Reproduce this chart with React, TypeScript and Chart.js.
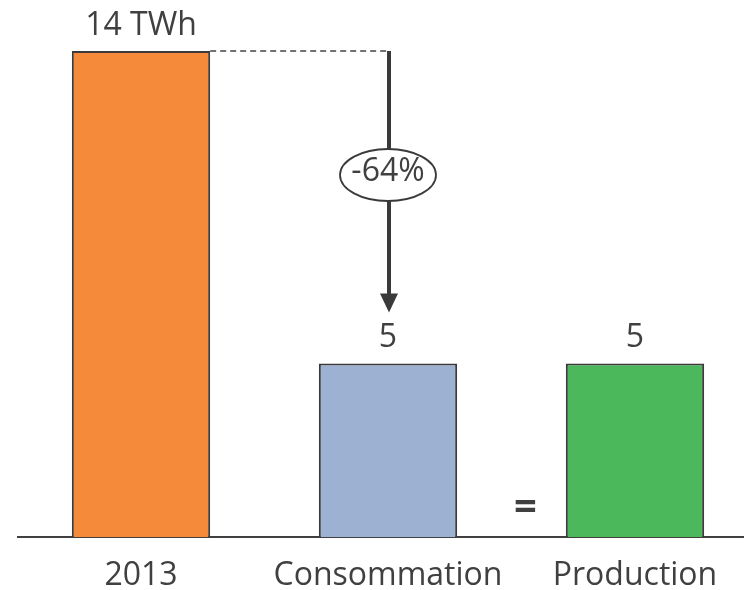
import React, { useEffect, useRef } from "react";
import { Chart, registerables } from "chart.js";

Chart.register(...registerables);

const categories = ["2013", "Consommation", "Production"];
const values = [14, 5, 5];
const valueLabels = ["14 TWh", "5", "5"];
const barColors = ["#F58A3A", "#9DB1D2", "#4BB85C"];
const changeLabel = "-64%";
const equalsLabel = "=";

const TEXT = "#404040";
const FONT = "'Open Sans', 'DejaVu Sans', sans-serif";

const annotationPlugin = {
  id: "annots",
  afterDatasetsDraw(chart: any) {
    const ctx = chart.ctx as CanvasRenderingContext2D;
    const x = chart.scales.x;
    const y = chart.scales.y;
    const meta = chart.getDatasetMeta(0);
    ctx.save();
    ctx.fillStyle = TEXT;
    ctx.font = `32px ${FONT}`;
    ctx.textAlign = "center";
    ctx.textBaseline = "alphabetic";
    meta.data.forEach((bar: any, i: number) => {
      ctx.fillText(valueLabels[i], bar.x, bar.y - 16);
    });
    categories.forEach((c, i) => {
      ctx.fillText(c, x.getPixelForValue(i), y.getPixelForValue(0) + 48);
    });
    const b0 = meta.data[0];
    const b1 = meta.data[1];
    const topY = y.getPixelForValue(values[0]);
    const arrowX = b1.x + 1;
    ctx.strokeStyle = "#444";
    ctx.lineWidth = 1.3;
    ctx.setLineDash([6, 4]);
    ctx.beginPath();
    ctx.moveTo(b0.x + b0.width / 2, topY);
    ctx.lineTo(arrowX, topY);
    ctx.stroke();
    ctx.setLineDash([]);
    const tipY = y.getPixelForValue(values[1]) - 51;
    ctx.strokeStyle = "#3a3a3a";
    ctx.lineWidth = 4;
    ctx.beginPath();
    ctx.moveTo(arrowX, topY);
    ctx.lineTo(arrowX, tipY - 16);
    ctx.stroke();
    ctx.fillStyle = "#3a3a3a";
    ctx.beginPath();
    ctx.moveTo(arrowX - 9, tipY - 19);
    ctx.lineTo(arrowX + 9, tipY - 19);
    ctx.lineTo(arrowX, tipY);
    ctx.closePath();
    ctx.fill();
    const ey = 175;
    ctx.fillStyle = "#fff";
    ctx.strokeStyle = "#3a3a3a";
    ctx.lineWidth = 1.8;
    ctx.beginPath();
    ctx.ellipse(arrowX - 1, ey, 48, 26, 0, 0, Math.PI * 2);
    ctx.fill();
    ctx.stroke();
    ctx.fillStyle = TEXT;
    ctx.font = `500 32px ${FONT}`;
    ctx.textBaseline = "middle";
    ctx.fillText(changeLabel, arrowX - 1, ey - 3);
    const b2 = meta.data[2];
    ctx.font = `bold 40px ${FONT}`;
    ctx.fillText(equalsLabel, (b1.x + b2.x) / 2 + 14, y.getPixelForValue(0) - 28);
    ctx.restore();
  },
};

export default function App() {
  const ref = useRef<HTMLCanvasElement>(null);
  useEffect(() => {
    document.body.style.margin = "0";
    document.body.style.overflow = "hidden";
    const chart = new Chart(ref.current!, {
      type: "bar",
      data: {
        labels: categories,
        datasets: [
          {
            data: values,
            backgroundColor: barColors,
            borderColor: "#3a3a3a",
            borderWidth: 2,
            borderSkipped: "bottom",
            barPercentage: 0.56,
            categoryPercentage: 1,
          },
        ],
      },
      options: {
        responsive: false,
        animation: false,
        layout: { padding: { left: 17.5, right: 1.5, top: 0, bottom: 53 } },
        plugins: { legend: { display: false }, tooltip: { enabled: false } },
        scales: {
          x: {
            display: true,
            grid: { display: false, drawTicks: false },
            ticks: { display: false },
            border: { display: true, color: "#404040", width: 2 },
          },
          y: {
            display: false,
            min: 0,
            max: (14 * 537) / 486,
          },
        },
      },
      plugins: [annotationPlugin],
    });
    return () => chart.destroy();
  }, []);
  return (
    <div style={{ position: "fixed", left: 0, top: 0, width: 744, height: 590, overflow: "hidden", background: "#fff" }}>
      <canvas ref={ref} width={760} height={590} />
    </div>
  );
}
